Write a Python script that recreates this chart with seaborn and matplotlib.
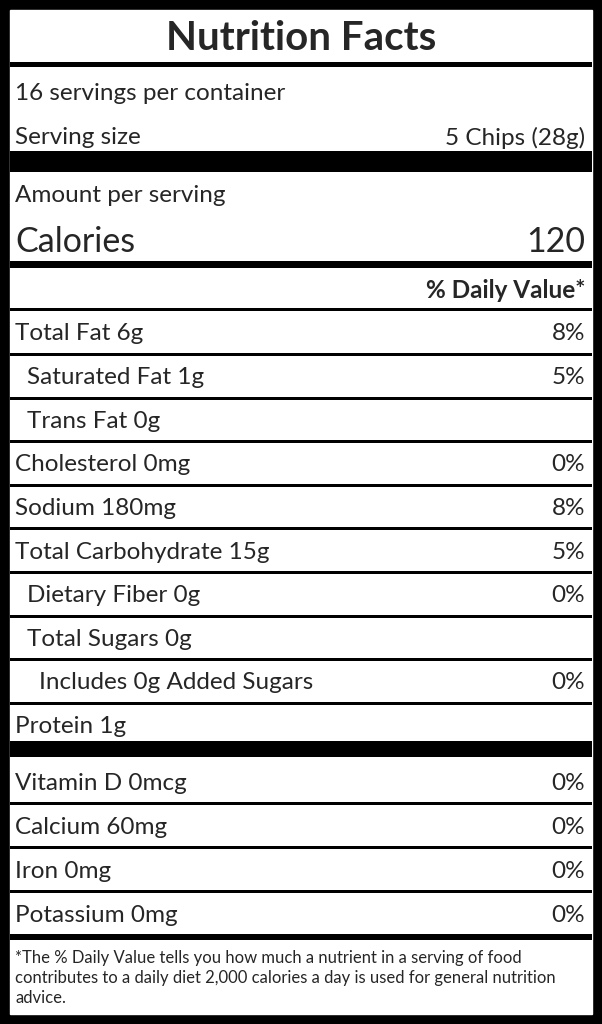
import matplotlib
matplotlib.use("Agg")
import matplotlib.pyplot as plt
import seaborn as sns

sns.set_theme(style="white")
plt.rcParams['font.family'] = ['Lato', 'DejaVu Sans']

title = "Nutrition Facts"
servings = "16 servings per container"
serving_size = ("Serving size", "5 Chips (28g)")
calories = 120
nutrients = ["Total Fat 6g", "Saturated Fat 1g", "Trans Fat 0g", "Cholesterol 0mg",
             "Sodium 180mg", "Total Carbohydrate 15g", "Dietary Fiber 0g",
             "Total Sugars 0g", "Includes 0g Added Sugars", "Protein 1g"]
nutrient_dv = ["8%", "5%", "", "0%", "8%", "5%", "0%", "", "0%", ""]
nutrient_indent = [0, 1, 1, 0, 0, 0, 1, 1, 2, 0]
vitamins = ["Vitamin D 0mcg", "Calcium 60mg", "Iron 0mg", "Potassium 0mg"]
vitamin_dv = ["0%", "0%", "0%", "0%"]
footnote = ("*The % Daily Value tells you how much a nutrient in a serving of food\n"
            "contributes to a daily diet 2,000 calories a day is used for general nutrition\n"
            "advice.")

W, H = 602, 1024
FS = 17.5
fig = plt.figure(figsize=(W/100, H/100), dpi=100)
fig.patch.set_facecolor("black")
ax = fig.add_axes([0, 0, 1, 1])
ax.set_xlim(0, W); ax.set_ylim(H, 0); ax.axis("off")
ax.add_patch(plt.Rectangle((10, 10), W-20, H-20, color="white", zorder=0))

L, R = 15, 585
def band(y0, y1):
    ax.axhspan(y0, y1, xmin=10/W, xmax=(W-10)/W, color="black", lw=0)

ax.text(W/2, 39, title, ha="center", va="center", fontsize=29, fontweight="bold")
band(62, 67)
ax.text(L, 94, servings, va="center", fontsize=FS)
ax.text(L, 138, serving_size[0], va="center", fontsize=FS)
ax.text(R, 138, serving_size[1], va="center", ha="right", fontsize=FS)
band(151, 172)
ax.text(L, 195, "Amount per serving", va="center", fontsize=FS)
ax.text(L, 242, "Calories", va="center", fontsize=24.5)
ax.text(R, 242, str(calories), va="center", ha="right", fontsize=24.5)
band(261, 268)
ax.text(R, 290, "% Daily Value*", va="center", ha="right", fontsize=FS, fontweight="bold")
band(308, 311)

y = 334
for i, (n, dv, ind) in enumerate(zip(nutrients, nutrient_dv, nutrient_indent)):
    ax.text(L + 12*ind, y, n, va="center", fontsize=FS)
    ax.text(R, y, dv, va="center", ha="right", fontsize=FS)
    if i < len(nutrients)-1:
        band(y+19, y+22)
    y += 43.6
band(741, 757)
y = 783
for i, (n, dv) in enumerate(zip(vitamins, vitamin_dv)):
    ax.text(L, y, n, va="center", fontsize=FS)
    ax.text(R, y, dv, va="center", ha="right", fontsize=FS)
    if i < len(vitamins)-1:
        band(y+19, y+22)
    y += 44
band(934, 940)
ax.text(L, 950, footnote, va="top", fontsize=12, linespacing=1.3)

fig.savefig("out.png", dpi=100, facecolor="black")
